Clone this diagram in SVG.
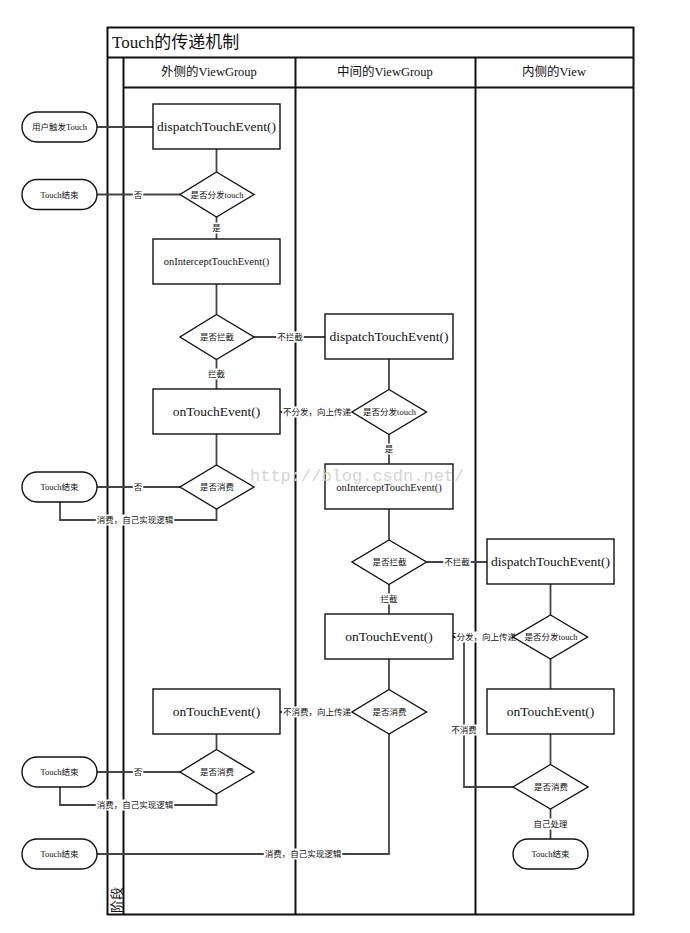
<svg xmlns="http://www.w3.org/2000/svg" width="690" height="933" viewBox="0 0 690 933">
<style>
text{font-family:'Liberation Serif','Noto Sans CJK SC',serif;fill:#111}
.frame{fill:none;stroke:#111;stroke-width:2}
.box{fill:#fff;stroke:#111;stroke-width:1.4}
.con{fill:none;stroke:#444;stroke-width:1.8}
.bg{fill:#fff}
.title{font-size:17px}
.hdr{font-size:12.5px;text-anchor:middle}
.big{font-size:13.5px;text-anchor:middle}
.mid{font-size:10.5px;text-anchor:middle}
.sm{font-size:8.5px;text-anchor:middle}
.wm{font-family:'Liberation Mono',monospace;font-size:17px;fill:#d4d4d4}
</style>
<rect width="690" height="933" fill="#fff"/>
<g id="frame">
<rect class="frame" x="107.5" y="27.5" width="526" height="887"/>
<line class="frame" x1="107.5" y1="57.5" x2="633.5" y2="57.5"/>
<line class="frame" x1="123.5" y1="87.5" x2="633.5" y2="87.5"/>
<line class="frame" x1="123.5" y1="57.5" x2="123.5" y2="914.5"/>
<line class="frame" x1="295.5" y1="57.5" x2="295.5" y2="914.5"/>
<line class="frame" x1="475.5" y1="57.5" x2="475.5" y2="914.5"/>
<text class="title" x="112" y="48">Touch的传递机制</text>
<text class="hdr" x="209" y="76">外侧的ViewGroup</text>
<text class="hdr" x="385" y="76">中间的ViewGroup</text>
<text class="hdr" x="554" y="76">内侧的View</text>
<text transform="translate(120.5,913) rotate(-90)" x="0" y="0" style="font-size:13px">阶段</text>
</g>
<g id="connectors">
<path class="con" d="M97,127H153"/>
<path class="con" d="M216.5,149V172"/>
<path class="con" d="M180,194.5H97"/>
<path class="con" d="M216.5,217V239"/>
<path class="con" d="M216.5,284V314"/>
<path class="con" d="M254,337H325"/>
<path class="con" d="M216.5,359V389"/>
<path class="con" d="M352,412H280"/>
<path class="con" d="M216.5,434V465"/>
<path class="con" d="M180,487H97"/>
<path class="con" d="M60,502V520H216.5V509"/>
<path class="con" d="M389,359V389"/>
<path class="con" d="M389,434V464"/>
<path class="con" d="M389,509V540"/>
<path class="con" d="M427,562H487"/>
<path class="con" d="M389,584V614"/>
<path class="con" d="M550.5,584V615"/>
<path class="con" d="M513,637H453"/>
<path class="con" d="M550.5,659V689"/>
<path class="con" d="M389,659V689"/>
<path class="con" d="M352,712H280"/>
<path class="con" d="M550.5,734V764"/>
<path class="con" d="M513,787H464V637H453"/>
<path class="con" d="M216.5,734V749"/>
<path class="con" d="M180,772H97"/>
<path class="con" d="M60,787V805H216.5V794"/>
<path class="con" d="M97,854H389V734"/>
<path class="con" d="M550.5,809V839"/>
<rect class="bg" x="132.75" y="189" width="10.5" height="11"/>
<text class="sm" x="138" y="197.5">否</text>
<rect class="bg" x="211.25" y="222.5" width="10.5" height="11"/>
<text class="sm" x="216.5" y="231">是</text>
<rect class="bg" x="276.25" y="331.5" width="27.5" height="11"/>
<text class="sm" x="290" y="340">不拦截</text>
<rect class="bg" x="207" y="368.5" width="19" height="11"/>
<text class="sm" x="216.5" y="377">拦截</text>
<rect class="bg" x="282" y="406.5" width="70" height="11"/>
<text class="sm" x="317" y="415">不分发，向上传递</text>
<rect class="bg" x="132.75" y="481.5" width="10.5" height="11"/>
<text class="sm" x="138" y="490">否</text>
<rect class="bg" x="95.75" y="514.5" width="78.5" height="11"/>
<text class="sm" x="135" y="523">消费，自己实现逻辑</text>
<rect class="bg" x="383.75" y="443.5" width="10.5" height="11"/>
<text class="sm" x="389" y="452">是</text>
<rect class="bg" x="443.25" y="556.5" width="27.5" height="11"/>
<text class="sm" x="457" y="565">不拦截</text>
<rect class="bg" x="379.5" y="593.5" width="19" height="11"/>
<text class="sm" x="389" y="602">拦截</text>
<rect class="bg" x="455" y="631.5" width="57" height="11"/>
<text class="sm" x="482" y="640">不分发，向上传递</text>
<rect class="bg" x="282" y="706.5" width="70" height="11"/>
<text class="sm" x="317" y="715">不消费，向上传递</text>
<rect class="bg" x="450.25" y="724.5" width="27.5" height="11"/>
<text class="sm" x="464" y="733">不消费</text>
<rect class="bg" x="132.75" y="766.5" width="10.5" height="11"/>
<text class="sm" x="138" y="775">否</text>
<rect class="bg" x="95.75" y="799.5" width="78.5" height="11"/>
<text class="sm" x="135" y="808">消费，自己实现逻辑</text>
<rect class="bg" x="263.75" y="848.5" width="78.5" height="11"/>
<text class="sm" x="303" y="857">消费，自己实现逻辑</text>
<rect class="bg" x="532.5" y="818.5" width="36" height="11"/>
<text class="sm" x="550.5" y="827">自己处理</text>
</g>
<g id="start">
<rect class="box" x="22" y="112" width="75" height="30" rx="15"/>
<text class="sm" x="59.5" y="130">用户触发Touch</text>
</g>
<g id="end1">
<rect class="box" x="22" y="179.5" width="75" height="30" rx="15"/>
<text class="sm" x="59.5" y="197.5">Touch结束</text>
</g>
<g id="end2">
<rect class="box" x="22" y="472" width="75" height="30" rx="15"/>
<text class="sm" x="59.5" y="490">Touch结束</text>
</g>
<g id="end3">
<rect class="box" x="22" y="757" width="75" height="30" rx="15"/>
<text class="sm" x="59.5" y="775">Touch结束</text>
</g>
<g id="end4">
<rect class="box" x="22" y="839" width="75" height="30" rx="15"/>
<text class="sm" x="59.5" y="857">Touch结束</text>
</g>
<g id="end5">
<rect class="box" x="513" y="839" width="75" height="30" rx="15"/>
<text class="sm" x="550.5" y="857">Touch结束</text>
</g>
<g id="outer-dispatch">
<rect class="box" x="153" y="104" width="127" height="45"/>
<text class="big" x="216.5" y="131">dispatchTouchEvent()</text>
</g>
<g id="outer-dec-dispatch">
<polygon class="box" points="216.5,172 254,194.5 216.5,217 180,194.5"/>
<text class="sm" x="217" y="197.5">是否分发touch</text>
</g>
<g id="outer-intercept">
<rect class="box" x="153" y="239" width="127" height="45"/>
<text class="mid" x="216.5" y="265">onInterceptTouchEvent()</text>
</g>
<g id="outer-dec-intercept">
<polygon class="box" points="216.5,314.5 254,337 216.5,359.5 180,337"/>
<text class="sm" x="217" y="340">是否拦截</text>
</g>
<g id="outer-ontouch1">
<rect class="box" x="153" y="389" width="127" height="45"/>
<text class="big" x="216.5" y="416">onTouchEvent()</text>
</g>
<g id="outer-dec-consume1">
<polygon class="box" points="216.5,465 254,487 216.5,509 180,487"/>
<text class="sm" x="217" y="490">是否消费</text>
</g>
<g id="outer-ontouch2">
<rect class="box" x="153" y="689" width="127" height="45"/>
<text class="big" x="216.5" y="716">onTouchEvent()</text>
</g>
<g id="outer-dec-consume2">
<polygon class="box" points="216.5,749.5 254,772 216.5,794 180,772"/>
<text class="sm" x="217" y="775">是否消费</text>
</g>
<g id="mid-dispatch">
<rect class="box" x="325" y="314" width="128" height="45"/>
<text class="big" x="389" y="341">dispatchTouchEvent()</text>
</g>
<g id="mid-dec-dispatch">
<polygon class="box" points="389,389.5 426.5,412 389,434.5 352,412"/>
<text class="sm" x="389.5" y="415">是否分发touch</text>
</g>
<g id="mid-intercept">
<rect class="box" x="325" y="464" width="128" height="45"/>
<text class="mid" x="389" y="491">onInterceptTouchEvent()</text>
</g>
<g id="mid-dec-intercept">
<polygon class="box" points="389,540 426.5,562 389,584.5 352,562"/>
<text class="sm" x="389.5" y="565">是否拦截</text>
</g>
<g id="mid-ontouch">
<rect class="box" x="325" y="614" width="128" height="45"/>
<text class="big" x="389" y="641">onTouchEvent()</text>
</g>
<g id="mid-dec-consume">
<polygon class="box" points="389,689.5 426.5,712 389,734 352,712"/>
<text class="sm" x="389.5" y="715">是否消费</text>
</g>
<g id="in-dispatch">
<rect class="box" x="487" y="539" width="127" height="45"/>
<text class="big" x="550.5" y="566">dispatchTouchEvent()</text>
</g>
<g id="in-dec-dispatch">
<polygon class="box" points="550.5,615 587.5,637 550.5,659 513,637"/>
<text class="sm" x="551" y="640">是否分发touch</text>
</g>
<g id="in-ontouch">
<rect class="box" x="487" y="689" width="127" height="45"/>
<text class="big" x="550.5" y="716">onTouchEvent()</text>
</g>
<g id="in-dec-consume">
<polygon class="box" points="550.5,764.5 588,787 550.5,809 513,787"/>
<text class="sm" x="551" y="790">是否消费</text>
</g>
<text class="wm" x="250" y="481">http://blog.csdn.net/</text>
</svg>
